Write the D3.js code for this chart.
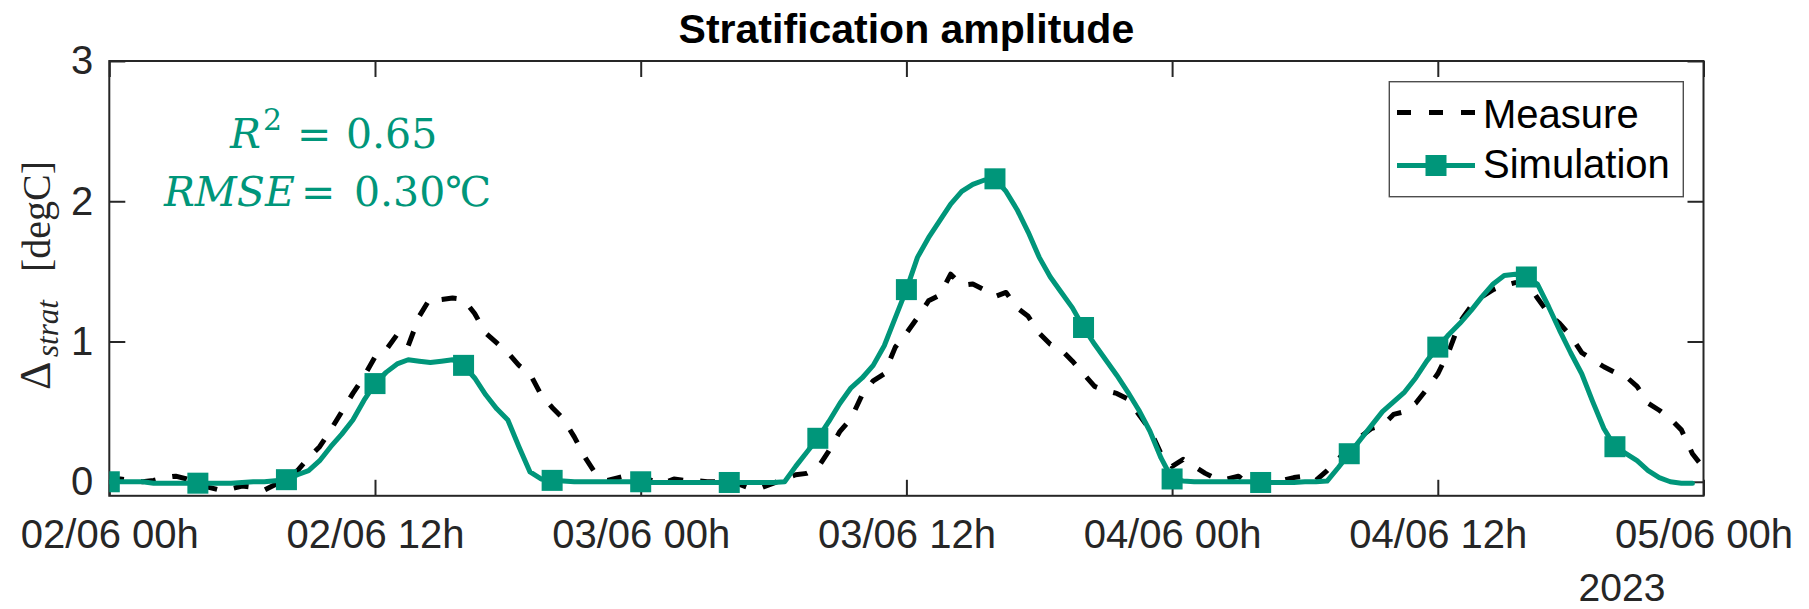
<!DOCTYPE html>
<html>
<head>
<meta charset="utf-8">
<script src="https://cdn.jsdelivr.net/npm/d3@7"></script>
<style>
  html, body { margin: 0; padding: 0; background: #ffffff; }
  svg { display: block; }
</style>
</head>
<body>
<svg id="chart" width="1809" height="609"></svg>
<script>
// ---- data -------------------------------------------------------------
// Both series are sampled every 30 minutes starting 02/06/2023 00:00.
const startTime = Date.UTC(2023, 5, 2, 0, 0);
const stepHours = 0.5;

// Measured stratification amplitude [degC], 00h on 02/06 to 00h on 05/06
const measure = [
   0.00,  0.02,  0.01,  0.00,  0.01,  0.03,  0.04,  0.02, -0.01, -0.04, -0.06, -0.05,
  -0.03, -0.04, -0.06, -0.02,  0.02,  0.08,  0.17,  0.25,  0.37,  0.50,  0.63,  0.75,
   0.89,  0.94,  1.05,  0.97,  1.18,  1.31,  1.30,  1.31,  1.30,  1.20,  1.06,  0.99,
   0.92,  0.83,  0.77,  0.62,  0.53,  0.45,  0.32,  0.17,  0.05,  0.01,  0.03,  0.05,
   0.03,  0.01, -0.01,  0.02,  0.01,  0.01,  0.00,  0.00,  0.00, -0.02, -0.05, -0.04,
  -0.01,  0.02,  0.05,  0.06,  0.10,  0.22,  0.36,  0.45,  0.62,  0.72,  0.77,  0.96,
   1.06,  1.17,  1.29,  1.33,  1.48,  1.40,  1.41,  1.37,  1.32,  1.35,  1.24,  1.18,
   1.06,  0.98,  0.94,  0.86,  0.77,  0.68,  0.65,  0.63,  0.59,  0.48,  0.37,  0.20,
   0.11,  0.16,  0.11,  0.06,  0.02,  0.02,  0.04, -0.02,  0.03,  0.04,  0.01,  0.03,
   0.04,  0.01,  0.08,  0.16,  0.25,  0.32,  0.38,  0.40,  0.48,  0.50,  0.56,  0.66,
   0.77,  0.93,  1.14,  1.25,  1.32,  1.37,  1.40,  1.42,  1.43,  1.31,  1.20,  1.13,
   1.04,  0.92,  0.87,  0.82,  0.78,  0.75,  0.68,  0.56,  0.51,  0.45,  0.37,  0.20,
   0.10
];

// Simulated stratification amplitude [degC], 00h on 02/06 to 23h30 on 04/06
const simulation = [
   0.00,  0.00,  0.00,  0.00, -0.01, -0.01, -0.01, -0.01, -0.01, -0.01, -0.01, -0.01,
  -0.005, 0.00,  0.00,  0.008, 0.015, 0.05,  0.08,  0.15,  0.25,  0.34,  0.44,  0.58,
   0.70,  0.78,  0.84,  0.87,  0.86,  0.85,  0.86,  0.87,  0.83,  0.74,  0.62,  0.52,
   0.44,  0.25,  0.07,  0.02,  0.01,  0.005, 0.00,  0.00,  0.00,  0.00,  0.00,  0.00,
   0.00, -0.005,-0.005,-0.005,-0.005,-0.005,-0.005,-0.005,-0.005,-0.005,-0.005,-0.005,
  -0.005, 0.00,  0.11,  0.21,  0.31,  0.43,  0.56,  0.67,  0.74,  0.83,  0.97,  1.17,
   1.37,  1.60,  1.74,  1.86,  1.98,  2.07,  2.12,  2.15,  2.16,  2.07,  1.94,  1.78,
   1.60,  1.46,  1.35,  1.24,  1.10,  0.98,  0.87,  0.76,  0.64,  0.51,  0.36,  0.17,
   0.02,  0.005, 0.00,  0.00,  0.00,  0.00,  0.00,  0.00, -0.005,-0.005,-0.005,-0.005,
   0.00,  0.00,  0.005, 0.10,  0.20,  0.30,  0.40,  0.50,  0.57,  0.64,  0.74,  0.86,
   0.96,  1.05,  1.13,  1.22,  1.32,  1.41,  1.47,  1.48,  1.46,  1.41,  1.25,  1.08,
   0.92,  0.77,  0.57,  0.38,  0.25,  0.20,  0.15,  0.08,  0.03,  0.00, -0.01, -0.01
];

// a square marker on every 8th simulated sample (every 4 hours)
const markerStep = 8;

const xTickHours = [0, 12, 24, 36, 48, 60, 72];
const yTicks = [0, 1, 2, 3];
const yDomain = [-0.1, 3];
const seriesNames = ["Measure", "Simulation"];
const titleText = "Stratification amplitude";
const yearText = "2023";
const r2Value = "0.65";
const rmseValue = "0.30";

// ---- layout -----------------------------------------------------------
const W = 1809, H = 609;
const plot = { left: 109.3, right: 1703.5, top: 61, bottom: 495.8 };
const teal = "#00967a";
const axisColor = "#262626";
const sansFont = "'Liberation Sans', Arial, Helvetica, sans-serif";
const serifFont = "'Liberation Serif', 'Times New Roman', serif";
const mathFont = "'DejaVu Serif', serif";
const lineWidth = 5;
const markerSize = 21;

const hourMs = 3600 * 1000;
const timeAt = i => new Date(startTime + i * stepHours * hourMs);

const x = d3.scaleUtc()
  .domain([new Date(startTime), new Date(startTime + 72 * hourMs)])
  .range([plot.left, plot.right]);
const y = d3.scaleLinear().domain(yDomain).range([plot.bottom, plot.top]);

const svg = d3.select("#chart");
svg.append("rect").attr("width", W).attr("height", H).attr("fill", "#ffffff");

// ---- axes (ticks point inward, box on all four sides) -----------------
const xTickDates = xTickHours.map(h => new Date(startTime + h * hourMs));
const fmt = d3.utcFormat("%d/%m %Hh");
const tickLen = 16;

function styleAxis(g) {
  g.select(".domain").remove();
  g.selectAll(".tick line").attr("stroke", axisColor).attr("stroke-width", 2);
  g.selectAll(".tick text")
    .attr("fill", axisColor)
    .style("font-family", sansFont)
    .style("font-size", "40px");
}

svg.append("g")
  .attr("transform", `translate(0,${plot.bottom})`)
  .call(d3.axisBottom(x).tickValues(xTickDates).tickFormat(fmt)
    .tickSizeInner(-tickLen).tickSizeOuter(0).tickPadding(24))
  .call(styleAxis);

svg.append("g")
  .attr("transform", `translate(0,${plot.top})`)
  .call(d3.axisTop(x).tickValues(xTickDates).tickFormat("")
    .tickSizeInner(-tickLen).tickSizeOuter(0))
  .call(styleAxis);

svg.append("g")
  .attr("transform", `translate(${plot.left},0)`)
  .call(d3.axisLeft(y).tickValues(yTicks).tickFormat(d3.format("d"))
    .tickSizeInner(-tickLen).tickSizeOuter(0).tickPadding(16))
  .call(styleAxis);

svg.append("g")
  .attr("transform", `translate(${plot.right},0)`)
  .call(d3.axisRight(y).tickValues(yTicks).tickFormat("")
    .tickSizeInner(-tickLen).tickSizeOuter(0))
  .call(styleAxis);

// axes box
svg.append("rect")
  .attr("x", plot.left).attr("y", plot.top)
  .attr("width", plot.right - plot.left).attr("height", plot.bottom - plot.top)
  .attr("fill", "none").attr("stroke", axisColor).attr("stroke-width", 2);

// year under the last date label
svg.append("text")
  .attr("x", 1622).attr("y", 601)
  .attr("text-anchor", "middle")
  .attr("fill", axisColor)
  .style("font-family", sansFont).style("font-size", "39px")
  .text(yearText);

// ---- series -----------------------------------------------------------
svg.append("defs").append("clipPath").attr("id", "plotClip")
  .append("rect")
  .attr("x", plot.left).attr("y", plot.top)
  .attr("width", plot.right - plot.left).attr("height", plot.bottom - plot.top);

const lines = svg.append("g").attr("clip-path", "url(#plotClip)");
const line = d3.line().x((d, i) => x(timeAt(i))).y(d => y(d));

lines.append("path")
  .datum(measure)
  .attr("d", line)
  .attr("fill", "none")
  .attr("stroke", "#000000")
  .attr("stroke-width", lineWidth)
  .attr("stroke-dasharray", "15,17")
  .attr("stroke-linejoin", "round");

lines.append("path")
  .datum(simulation)
  .attr("d", line)
  .attr("fill", "none")
  .attr("stroke", teal)
  .attr("stroke-width", lineWidth)
  .attr("stroke-linejoin", "round")
  .attr("stroke-linecap", "round");

const markerData = simulation
  .map((v, i) => ({ v, i }))
  .filter(d => d.i % markerStep === 0);

lines.selectAll("rect.marker")
  .data(markerData)
  .join("rect")
  .attr("class", "marker")
  .attr("x", d => x(timeAt(d.i)) - markerSize / 2)
  .attr("y", d => y(d.v) - markerSize / 2)
  .attr("width", markerSize).attr("height", markerSize)
  .attr("fill", teal);

// ---- title ------------------------------------------------------------
svg.append("text")
  .attr("x", (plot.left + plot.right) / 2).attr("y", 43)
  .attr("text-anchor", "middle")
  .attr("fill", "#000000")
  .style("font-family", sansFont).style("font-size", "41px").style("font-weight", "bold")
  .text(titleText);

// ---- y-axis label: Δ_strat [degC] ------------------------------------
const yLab = svg.append("text")
  .attr("transform", "translate(50,390) rotate(-90)")
  .attr("fill", "#262626")
  .style("font-family", serifFont);
yLab.append("tspan").attr("x", 0).style("font-size", "44px").text("Δ");
yLab.append("tspan").attr("x", 33).attr("dy", 8)
  .style("font-size", "31px").style("font-style", "italic").text("strat");
yLab.append("tspan").attr("x", 118).attr("dy", -8)
  .style("font-size", "40px").text("[degC]");

// ---- goodness-of-fit annotation --------------------------------------
const stats = svg.append("g")
  .attr("fill", teal)
  .style("font-family", mathFont)
  .style("font-size", "41px");

const l1 = stats.append("text").attr("y", 148);
l1.append("tspan").attr("x", 230).style("font-style", "italic").text("R");
l1.append("tspan").attr("x", 263).attr("dy", -18).style("font-size", "30px").text("2");
l1.append("tspan").attr("x", 297).attr("dy", 18).text("=");
l1.append("tspan").attr("x", 346).text(r2Value);

const l2 = stats.append("text").attr("y", 206);
l2.append("tspan").attr("x", 164).style("font-style", "italic").text("RMSE");
l2.append("tspan").attr("x", 301).text("=");
l2.append("tspan").attr("x", 354).text(rmseValue + "℃");

// ---- legend -----------------------------------------------------------
const lg = svg.append("g");
lg.append("rect")
  .attr("x", 1389.3).attr("y", 81.7).attr("width", 294).attr("height", 115)
  .attr("fill", "#ffffff").attr("stroke", "#4d4d4d").attr("stroke-width", 1.4);

lg.append("line")
  .attr("x1", 1397).attr("x2", 1475).attr("y1", 112.5).attr("y2", 112.5)
  .attr("stroke", "#000000").attr("stroke-width", lineWidth).attr("stroke-dasharray", "14,18");
lg.append("line")
  .attr("x1", 1397).attr("x2", 1475).attr("y1", 165.5).attr("y2", 165.5)
  .attr("stroke", teal).attr("stroke-width", lineWidth);
lg.append("rect")
  .attr("x", 1436 - markerSize / 2).attr("y", 165.5 - markerSize / 2)
  .attr("width", markerSize).attr("height", markerSize).attr("fill", teal);

lg.selectAll("text.lgtext")
  .data(seriesNames)
  .join("text")
  .attr("class", "lgtext")
  .attr("x", 1483).attr("y", (d, i) => 128.3 + i * 50)
  .attr("fill", "#000000")
  .style("font-family", sansFont).style("font-size", "40px")
  .text(d => d);
</script>
</body>
</html>
